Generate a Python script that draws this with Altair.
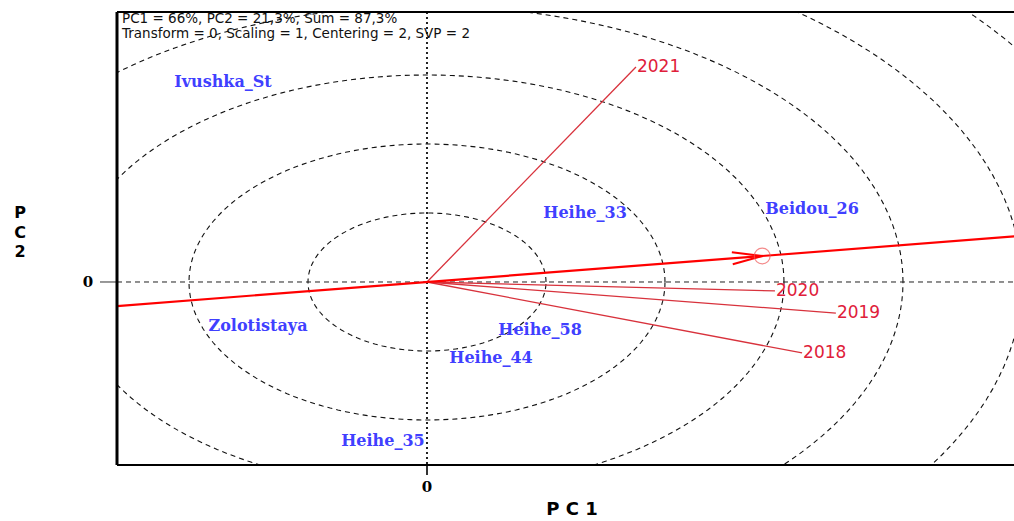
import math
import altair as alt
import pandas as pd

# Genotype scores (PC1, PC2)
genotypes = ["Ivushka_St", "Heihe_33", "Beidou_26", "Zolotistaya", "Heihe_58", "Heihe_44", "Heihe_35"]
geno_pc1 = [-0.857, 0.664, 1.618, -0.710, 0.475, 0.269, -0.185]
geno_pc2 = [1.449, 0.500, 0.529, -0.319, -0.348, -0.551, -1.152]

# Environment (year) vectors
environments = ["2021", "2020", "2019", "2018"]
env_pc1 = [0.878, 1.462, 1.718, 1.576]
env_pc2 = [1.558, -0.065, -0.225, -0.514]

# Concentric circles around the biplot origin
circle_radii = [0.5, 1.0, 1.5, 2.0, 2.5, 3.0]

header_lines = ["PC1 = 66%, PC2 = 21,3%, Sum = 87,3%",
                "Transform = 0, Scaling = 1, Centering = 2, SVP = 2"]
pc2_letters = ["P", "C", "2"]

W, H = 897, 453
X_DOM = [-1.3025, 2.4664]
Y_DOM = [-1.3261, 1.9565]
px_x = W / (X_DOM[1] - X_DOM[0])
px_y = H / (Y_DOM[1] - Y_DOM[0])

xs = alt.Scale(domain=X_DOM, nice=False, zero=False)
ys = alt.Scale(domain=Y_DOM, nice=False, zero=False)

def X(field="x"):
    return alt.X(f"{field}:Q", scale=xs, axis=None)

def Y(field="y"):
    return alt.Y(f"{field}:Q", scale=ys, axis=None)

# circles as polylines
circ_rows = []
for r in circle_radii:
    for k in range(0, 361, 2):
        t = math.radians(k)
        circ_rows.append({"r": r, "k": k, "x": r * math.cos(t), "y": r * math.sin(t)})
circ_df = pd.DataFrame(circ_rows)

circles = alt.Chart(circ_df).mark_line(
    color="#111111", strokeWidth=1.1, strokeDash=[5, 4], clip=True
).encode(x=X(), y=Y(), detail="r:N", order="k:Q")

# average environment coordinate and its axis
avg_x = sum(env_pc1) / len(env_pc1)
avg_y = sum(env_pc2) / len(env_pc2)
aea_df = pd.DataFrame({"x": [-1.5 * avg_x, 2.5 * avg_x], "y": [-1.5 * avg_y, 2.5 * avg_y], "o": [0, 1]})
aea = alt.Chart(aea_df).mark_line(color="#ff0000", strokeWidth=2.2, clip=True).encode(
    x=X(), y=Y(), order="o:Q")

# arrowhead pointing at the average environment
dxp, dyp = avg_x * px_x, avg_y * px_y
L = math.hypot(dxp, dyp)
ux, uy = dxp / L, dyp / L
arrow_rows = []
for side in (1, -1):
    bx = -30 * ux + side * 6 * (-uy)
    by = -30 * uy + side * 6 * ux
    arrow_rows.append({"x": avg_x + bx / px_x, "y": avg_y + by / px_y,
                       "x2": avg_x, "y2": avg_y})
arrow = alt.Chart(pd.DataFrame(arrow_rows)).mark_rule(color="#ff0000", strokeWidth=2).encode(
    x=X(), y=Y(), x2="x2:Q", y2="y2:Q")

avg_pt = alt.Chart(pd.DataFrame({"x": [avg_x], "y": [avg_y]})).mark_point(
    shape="circle", size=250, filled=False, color="#f05a5a", strokeWidth=1.2
).encode(x=X(), y=Y())

# biplot axes through the origin
v_axis = alt.Chart(pd.DataFrame({"x": [0]})).mark_rule(
    color="#222222", strokeWidth=2, strokeDash=[2, 3]
).encode(x=X(), y=alt.value(0), y2=alt.value(H))
h_axis = alt.Chart(pd.DataFrame({"y": [0]})).mark_rule(
    color="#222222", strokeWidth=1, strokeDash=[5, 4]
).encode(y=Y(), x=alt.value(0), x2=alt.value(W))
v_tick = alt.Chart(pd.DataFrame({"x": [0]})).mark_rule(color="#333333", strokeWidth=2).encode(
    x=X(), y=alt.value(H), y2=alt.value(H + 10))
h_tick = alt.Chart(pd.DataFrame({"y": [0]})).mark_rule(color="#333333", strokeWidth=1).encode(
    y=Y(), x=alt.value(-17), x2=alt.value(0))

# environment vectors
env_df = pd.DataFrame({"env": environments, "x2": env_pc1, "y2": env_pc2,
                       "x": [0.0] * 4, "y": [0.0] * 4})
vectors = alt.Chart(env_df).mark_rule(color="#d8323c", strokeWidth=1.3).encode(
    x=X(), y=Y(), x2="x2:Q", y2="y2:Q")
env_labels = alt.Chart(env_df).mark_text(
    align="left", baseline="middle", dx=1, font="DejaVu Sans", fontSize=17, color="#e0203a"
).encode(x=X("x2"), y=Y("y2"), text="env:N")

geno_df = pd.DataFrame({"g": genotypes, "x": geno_pc1, "y": geno_pc2})
geno_labels = alt.Chart(geno_df).mark_text(
    align="center", baseline="middle", font="DejaVu Serif", fontSize=16, fontWeight="bold",
    color="#4040ff"
).encode(x=X(), y=Y(), text="g:N")

# frame
frame_left = alt.Chart(pd.DataFrame({"a": [0]})).mark_rule(color="black", strokeWidth=3).encode(
    x=alt.value(0), y=alt.value(0), y2=alt.value(H))
frame_top = alt.Chart(pd.DataFrame({"a": [0]})).mark_rule(color="black", strokeWidth=2).encode(
    x=alt.value(0), x2=alt.value(W), y=alt.value(0))
frame_bottom = alt.Chart(pd.DataFrame({"a": [0]})).mark_rule(color="black", strokeWidth=2).encode(
    x=alt.value(0), x2=alt.value(W), y=alt.value(H))

# header and axis labels
hdr_df = pd.DataFrame({"t": header_lines, "yy": [7, 22]})
header = alt.Chart(hdr_df).mark_text(
    align="left", baseline="middle", font="DejaVu Sans", fontSize=13.5, color="#111111"
).encode(x=alt.value(5), y=alt.Y("yy:Q", scale=None), text="t:N")

zero_x = alt.Chart(pd.DataFrame({"x": [0]})).mark_text(
    text="0", font="DejaVu Serif", fontWeight="bold", fontSize=15, baseline="middle"
).encode(x=X(), y=alt.value(H + 22))
zero_y = alt.Chart(pd.DataFrame({"y": [0]})).mark_text(
    text="0", font="DejaVu Serif", fontWeight="bold", fontSize=15, baseline="middle", align="center"
).encode(y=Y(), x=alt.value(-29))

title_x = alt.Chart(pd.DataFrame({"a": [0]})).mark_text(
    text="P C 1", font="DejaVu Sans", fontWeight="bold", fontSize=18, baseline="middle"
).encode(x=alt.value(455), y=alt.value(498))

pc2_df = pd.DataFrame({"t": pc2_letters, "yy": [201, 221, 240]})
title_y = alt.Chart(pc2_df).mark_text(
    font="DejaVu Sans", fontWeight="bold", fontSize=16, baseline="middle"
).encode(x=alt.value(-97), y=alt.Y("yy:Q", scale=None), text="t:N")

chart = alt.layer(
    circles, h_axis, v_axis, v_tick, h_tick, vectors, aea, arrow, avg_pt,
    env_labels, geno_labels, frame_left, frame_top, frame_bottom,
    header, zero_x, zero_y, title_x, title_y
).properties(
    width=W, height=H,
    autosize=alt.AutoSizeParams(type="none"),
    padding={"left": 117, "top": 12, "right": 0, "bottom": 56},
).configure_view(stroke=None).configure(background="white")

chart.save("out.html", embed_options={"renderer": "svg", "actions": False})
